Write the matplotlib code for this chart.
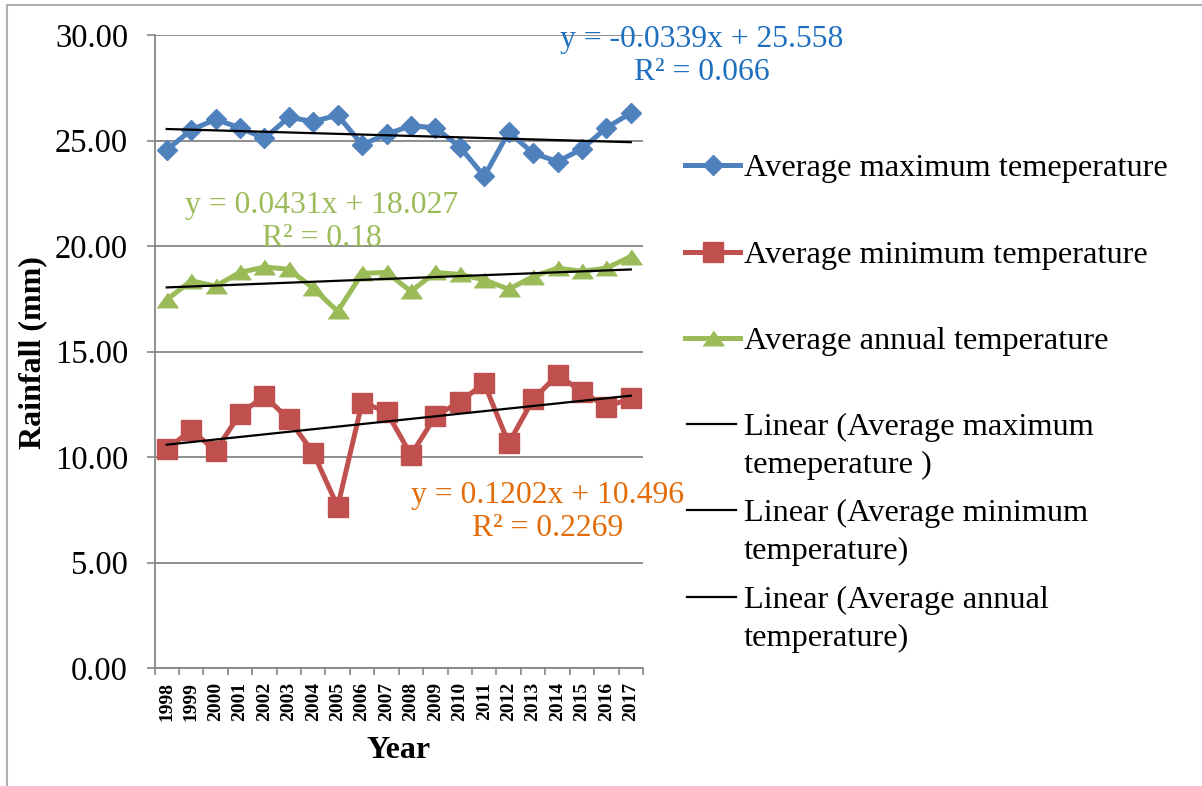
import numpy as np
import matplotlib
matplotlib.use("Agg")
import matplotlib.pyplot as plt
from matplotlib.lines import Line2D

plt.rcParams['font.family'] = ['Liberation Serif', 'DejaVu Serif']

# data
years = [str(y) for y in range(1998, 2018)]
max_temp = [24.55, 25.5, 26.0, 25.6, 25.1, 26.1, 25.9, 26.2, 24.8, 25.3,
            25.7, 25.6, 24.7, 23.3, 25.4, 24.4, 24.0, 24.6, 25.6, 26.3]
min_temp = [10.36, 11.28, 10.30, 12.04, 12.89, 11.79, 10.20, 7.65, 12.58, 12.15,
            10.09, 11.94, 12.62, 13.49, 10.65, 12.73, 13.89, 13.10, 12.38, 12.78]
ann_temp = [17.45, 18.35, 18.1, 18.75, 19.0, 18.9, 18.0, 16.9, 18.7, 18.75,
            17.85, 18.75, 18.65, 18.4, 17.95, 18.55, 18.95, 18.8, 18.95, 19.5]

series_names = ['Average maximum temeperature', 'Average minimum temperature',
                'Average annual temperature']
trend_names = ['Linear (Average maximum\ntemeperature )',
               'Linear (Average minimum\ntemperature)',
               'Linear (Average annual\ntemperature)']
eq_texts = ['y = -0.0339x + 25.558\nR\u00b2 = 0.066',
            'y = 0.1202x + 10.496\nR\u00b2 = 0.2269',
            'y = 0.0431x + 18.027\nR\u00b2 = 0.18']

colors = ['#4F81BD', '#C0504D', '#9BBB59']
eq_colors = ['#1F6FBF', '#E36C09', '#9BBB59']
tri = [(-1, -0.7), (1, -0.7), (0, 0.7)]
markers = ['D', 's', tri]
msizes = [10.5, 14, 15]

W, H = 1202, 786
fig = plt.figure(figsize=(W / 100, H / 100), dpi=100)


def fx(p):
    return p / W


def fy(p):
    return 1 - p / H


ax = fig.add_axes([fx(154.5), fy(668), fx(643) - fx(154.5), fy(35) - fy(668)])

x = np.arange(len(years))
all_series = [max_temp, min_temp, ann_temp]
for vals, c, m, ms in zip(all_series, colors, markers, msizes):
    ax.plot(x, vals, color=c, lw=3.6, marker=m, ms=ms, zorder=3)

# linear trend lines (Excel uses x = 1..n)
for vals in all_series:
    k, b = np.polyfit(x + 1, vals, 1)
    ax.plot(x, k * (x + 1) + b, color='black', lw=1.6, zorder=4)

ax.set_xlim(-0.5, len(years) - 0.5)
ax.set_ylim(0, 30)
ax.set_yticks(np.arange(0, 31, 5))
ax.set_yticklabels(['%.2f' % v for v in np.arange(0, 31, 5)], fontsize=23.5)
ax.yaxis.grid(True, color='#868686', lw=1.3)
ax.set_axisbelow(True)

ax.set_xticks(np.arange(-0.5, len(years), 1))
ax.set_xticklabels([])
ax.set_xticks(x, minor=True)
ax.set_xticklabels(years, minor=True, rotation=90, fontsize=14, fontweight='bold')
ax.tick_params(axis='x', which='major', length=5, width=1.2, color='#868686', direction='out')
ax.tick_params(axis='x', which='minor', length=0, pad=10)
ax.tick_params(axis='y', length=6, width=1.2, color='#868686', pad=13)

for s in ['top', 'right']:
    ax.spines[s].set_visible(False)
for s in ['left', 'bottom']:
    ax.spines[s].set_color('#868686')
    ax.spines[s].set_linewidth(1.3)

fig.text(fx(399), fy(750), 'Year', fontsize=23, fontweight='bold', ha='center', va='center')
fig.text(fx(33), fy(353), 'Rainfall (mm)', fontsize=23, fontweight='bold',
         rotation=90, ha='center', va='center')

# trendline equations
eq_pos = [(702, 56), (548, 512), (322, 222)]
for t, c, (px, py) in zip(eq_texts, eq_colors, eq_pos):
    fig.text(fx(px), fy(py), t, color=c, fontsize=22.8, ha='center', va='center',
             multialignment='center', linespacing=1.15)

# legend, laid out the way Excel does it
entry_y = [165, 252, 338, 424, 510, 597]
for i, name in enumerate(series_names):
    y = entry_y[i]
    fig.add_artist(Line2D([fx(685), fx(740)], [fy(y), fy(y)], color=colors[i], lw=3.6))
    fig.add_artist(Line2D([fx(712.5)], [fy(y)], color=colors[i], marker=markers[i],
                          ms=msizes[i], lw=0))
    fig.text(fx(744), fy(y), name, fontsize=23.3, va='center_baseline', ha='left')
for j, name in enumerate(trend_names):
    y = entry_y[3 + j]
    fig.add_artist(Line2D([fx(687), fx(736)], [fy(y), fy(y)], color='black', lw=1.6))
    for k, line in enumerate(name.split('\n')):
        fig.text(fx(744), fy(y + 38 * k), line, fontsize=23.3, va='center_baseline', ha='left')

# outer chart border
fig.add_artist(Line2D([fx(7), fx(7)], [fy(5), 0], color='#b0b0b0', lw=1.5))
fig.add_artist(Line2D([fx(7), 1], [fy(5), fy(5)], color='#b0b0b0', lw=1.5))

fig.savefig('out.png', dpi=100)
